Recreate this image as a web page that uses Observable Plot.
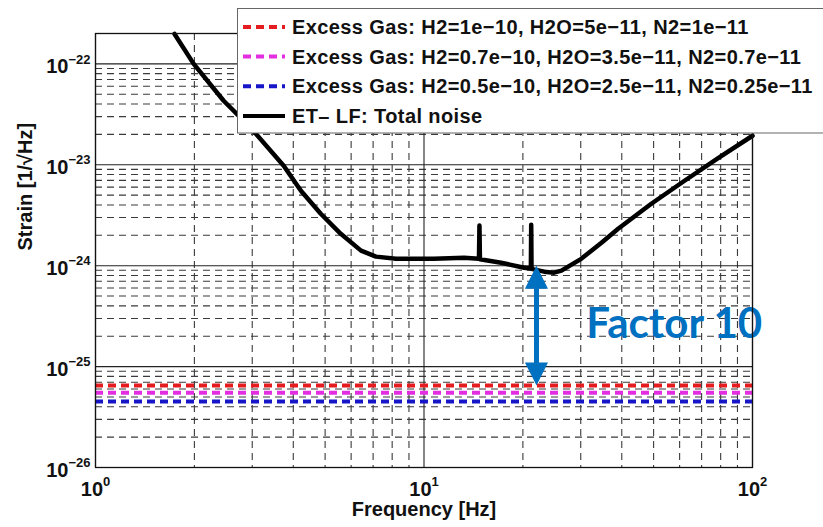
<!DOCTYPE html>
<html><head><meta charset="utf-8">
<script src="https://cdn.jsdelivr.net/npm/d3@7"></script>
<script src="https://cdn.jsdelivr.net/npm/@observablehq/plot@0.6"></script>
<style>
html,body{margin:0;padding:0;background:#fff;overflow:hidden;}
#wrap{position:relative;width:823px;height:527px;overflow:hidden;font-family:"Liberation Sans",Arial,sans-serif;}
#legend{position:absolute;left:237px;top:8px;}
</style></head>
<body><div id="wrap"><div id="chart"></div><div id="legend"></div></div>
<script>
// ---- data ----
const freq   = [1.74, 1.99, 2.455, 2.97, 3.74, 4.22, 4.85, 5.58, 6.43, 7.14, 8.22, 10.7, 13.24, 14.7, 14.75, 14.8, 17.17, 20.18, 21.15, 21.2, 21.25, 23.2, 24.9, 26.2, 30.1, 34.7, 39.0, 49.2, 62.1, 78.8, 100];
const strain = [1.98e-22, 1e-22, 4.31e-23, 2.32e-23, 9.8e-24, 5.54e-24, 3.27e-24, 2.07e-24, 1.41e-24, 1.23e-24, 1.17e-24, 1.17e-24, 1.2e-24, 1.17e-24, 2.5e-24, 1.16e-24, 1.07e-24, 9.55e-25, 9.35e-25, 2.55e-24, 9.3e-25, 8.73e-25, 8.53e-25, 8.92e-25, 1.17e-24, 1.69e-24, 2.32e-24, 4.11e-24, 6.95e-24, 1.17e-23, 1.94e-23];
const gasLevels = [6.5e-26, 5.5e-26, 4.5e-26];
const gasLabels = [
  "Excess Gas: H2=1e\u221210, H2O=5e\u221211, N2=1e\u221211",
  "Excess Gas: H2=0.7e\u221210, H2O=3.5e\u221211, N2=0.7e\u221211",
  "Excess Gas: H2=0.5e\u221210, H2O=2.5e\u221211, N2=0.25e\u221211"
];
const gasColors = ["#e41b1f", "#e22ee0", "#1616c8"];
const totalLabel = "ET\u2013 LF: Total noise";
const xTicks = [1, 10, 100];
const yTicks = [1e-26, 1e-25, 1e-24, 1e-23, 1e-22];
const mantissas = [2, 3, 4, 5, 6, 7, 8, 9];
const arrowX = 22, arrowTop = 1e-24, arrowBottom = 6.5e-26;
const factorLabel = "Factor 10", factorX = 31.2, factorY = 2.6e-25;
const xLabel = "Frequency [Hz]", yLabel = "Strain [1/\u221aHz]";

const xMinor = xTicks.slice(0, -1).flatMap(d => mantissas.map(m => m * d));
const yMinor = yTicks.flatMap(d => mantissas.map(m => m * d)).filter(v => v < 1.99e-22);
const rows = freq.map((f, i) => ({f, s: strain[i]}));

const tri = {draw(ctx, size) { const w = Math.sqrt(size); ctx.moveTo(0, 0); ctx.lineTo(-w / 2, w); ctx.lineTo(w / 2, w); ctx.closePath(); }};
const fmt = d => "10^" + String(Math.round(Math.log10(d))).replace("-", "\u2212");
const dashStyle = {stroke: "#3a3a3a", strokeOpacity: 1, strokeWidth: 1.1, strokeDasharray: "7,5"};
const solidStyle = {stroke: "#222", strokeOpacity: 1, strokeWidth: 1.1};

const chart = Plot.plot({
  width: 823, height: 527,
  marginLeft: 95, marginRight: 71, marginTop: 33, marginBottom: 60,
  x: {type: "log", domain: [1, 100]},
  y: {type: "log", domain: [1e-26, 2e-22]},
  style: {fontFamily: "'Liberation Sans', Arial, sans-serif", background: "#fff", color: "#111"},
  marks: [
    Plot.gridY(yMinor, dashStyle),
    Plot.gridX(xMinor, dashStyle),
    Plot.gridY(yTicks, solidStyle),
    Plot.gridX(xTicks, solidStyle),
    ...gasLevels.map((v, i) => Plot.ruleY([v], {stroke: gasColors[i], strokeWidth: 4, strokeDasharray: "8,5"})),
    Plot.line(rows, {x: "f", y: "s", stroke: "#000", strokeWidth: 4.5, strokeLinejoin: "round"}),
    Plot.ruleX([arrowX], {x: d => d, y1: () => arrowTop, y2: () => arrowBottom, stroke: "#0070c0", strokeWidth: 5, insetTop: 18, insetBottom: 18}),
    Plot.dot([arrowTop], {x: () => arrowX, y: d => d, symbol: tri, r: 13, fill: "#0070c0", stroke: null}),
    Plot.dot([arrowBottom], {x: () => arrowX, y: d => d, symbol: tri, r: 13, rotate: 180, fill: "#0070c0", stroke: null}),
    Plot.text([factorLabel], {x: () => factorX, y: () => factorY, text: d => d, textAnchor: "start", fontSize: 42, fontWeight: "bold", fontFamily: "Lato", fill: "#0070c0"}),
    Plot.frame({stroke: "#111", strokeWidth: 1.3}),
    Plot.axisX(xTicks, {tickFormat: fmt, tickSize: 0, tickPadding: 14, fontSize: 20, fontWeight: "bold", label: null}),
    Plot.axisY(yTicks, {tickFormat: fmt, tickSize: 0, tickPadding: 5, fontSize: 20, fontWeight: "bold", dy: 3, label: null}),
    Plot.text([xLabel], {frameAnchor: "bottom", dy: 48, text: d => d, fontSize: 20, fontWeight: "bold"}),
    Plot.text([yLabel], {frameAnchor: "left", dx: -70, rotate: -90, text: d => d, fontSize: 20, fontWeight: "bold"})
  ]
});
d3.select(chart).selectAll("text").each(function () {
  const m = /^10\^(.+)$/.exec(this.textContent);
  if (m) {
    this.textContent = "";
    const s = d3.select(this);
    s.append("tspan").text("10");
    s.append("tspan").attr("dy", "-0.75em").attr("font-size", 13).text(m[1]);
  }
});
document.getElementById("chart").appendChild(chart);

// legend (drawn on top of the plot, like the original)
const lg = d3.select("#legend").append("svg").attr("width", 600).attr("height", 126);
lg.append("rect").attr("x", 0.5).attr("y", 0.5).attr("width", 620).attr("height", 124.5).attr("fill", "#fff").attr("stroke", "#666");
const entries = gasLabels.map((t, i) => ({t, c: gasColors[i], dash: "8,5"})).concat([{t: totalLabel, c: "#000", dash: null}]);
const base = [26, 55.5, 85.3, 115];
entries.forEach((e, i) => {
  lg.append("line").attr("x1", 6).attr("x2", 48).attr("y1", base[i] - 7).attr("y2", base[i] - 7)
    .attr("stroke", e.c).attr("stroke-width", 4).attr("stroke-dasharray", e.dash);
  lg.append("text").attr("x", 55).attr("y", base[i]).attr("font-size", 20).attr("font-weight", "bold")
    .attr("letter-spacing", 0.4)
    .attr("font-family", "'Liberation Sans', Arial, sans-serif").attr("fill", "#111").text(e.t);
});
</script></body></html>
